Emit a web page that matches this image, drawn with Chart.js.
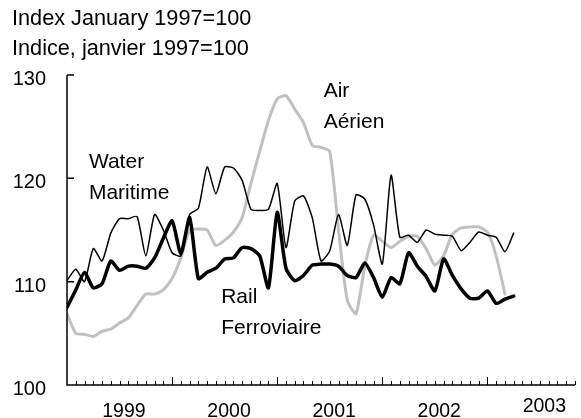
<!DOCTYPE html>
<html>
<head>
<meta charset="utf-8">
<script src="https://cdn.jsdelivr.net/npm/chart.js@4"></script>
<style>
  html, body { margin: 0; padding: 0; background: #fff; }
  #wrap { width: 581px; height: 418px; }
</style>
</head>
<body>
<div id="wrap"><canvas id="chart" width="581" height="418"></canvas></div>
<script>
// Monthly values from January 1999 (index January 1997 = 100)
var waterValues = [
  110.1, 111.2, 110.0, 113.2, 112.0, 114.7, 116.1, 116.1, 116.3, 112.5, 116.5, 115.0,
  112.8, 112.5, 116.5, 117.1, 121.1, 118.5, 121.1, 121.0, 119.8, 117.0, 116.9, 117.0,
  119.5, 113.3, 117.8, 118.3, 116.2, 112.0, 113.0, 116.5, 113.5, 118.4, 118.0, 115.5,
  111.7, 120.3, 114.3, 114.5, 113.8, 115.0, 114.6, 114.5, 114.4, 113.0, 113.8, 114.8,
  114.5, 114.3, 112.9, 114.7
];
var railValues = [
  107.5, 109.2, 110.9, 109.4, 109.8, 112.0, 111.1, 111.5, 111.5, 111.3, 112.3, 114.2,
  115.9, 112.7, 116.2, 110.3, 110.9, 111.3, 112.2, 112.3, 113.3, 113.2, 112.5, 109.4,
  116.7, 111.3, 110.1, 110.6, 111.6, 111.7, 111.7, 111.5, 110.6, 110.4, 111.8, 110.4,
  108.5, 110.4, 109.8, 112.8, 111.5, 110.5, 109.1, 112.2, 110.6, 109.3, 108.4, 108.4,
  109.1, 107.9, 108.3, 108.6
];
var airValues = [
  106.9, 105.0, 104.9, 104.7, 105.2, 105.4, 106.0, 106.5, 107.7, 108.8, 108.8, 109.2,
  110.3, 112.3, 115.0, 115.1, 115.0, 113.5, 114.0, 114.8, 116.2, 119.5, 122.6, 125.6,
  127.7, 128.0, 126.7, 125.4, 123.2, 123.0, 122.6, 115.0, 108.2, 106.9, 111.5, 114.5,
  113.9, 113.3, 113.9, 114.4, 114.4, 113.2, 111.6, 112.5, 114.6, 115.2, 115.3, 115.3,
  114.8, 112.5, 108.8
];

var yearLabels = ['1999', '2000', '2001', '2002', '2003'];
var yTicks = [100, 110, 120, 130];
var titleLines = ['Index January 1997=100', 'Indice, janvier 1997=100'];
var waterLabel = ['Water', 'Maritime'];
var railLabel = ['Rail', 'Ferroviaire'];
var airLabel = ['Air', 'Aérien'];

var lastMonth = 58; // axis runs a little past the data
var FAMILY = '"Liberation Sans", Arial, sans-serif';

function toPoints(values) {
  return values.map(function(v, i) { return { x: i, y: v }; });
}

// axes, ticks and text drawn on the canvas from the scales
var axesPlugin = {
  id: 'statcanAxes',
  afterDatasetsDraw: function(chart) {
    var ctx = chart.ctx;
    var xs = chart.scales.x;
    var ys = chart.scales.y;
    var x0 = xs.getPixelForValue(0);
    var x1 = xs.getPixelForValue(lastMonth);
    var yBottom = ys.getPixelForValue(yTicks[0]);
    var yTop = ys.getPixelForValue(yTicks[yTicks.length - 1]);

    ctx.save();
    ctx.strokeStyle = '#000';
    ctx.lineWidth = 1.5;
    ctx.beginPath();
    ctx.moveTo(x0, yTop);
    ctx.lineTo(x0, yBottom);
    ctx.lineTo(x1, yBottom);
    yTicks.forEach(function(v) {
      var y = ys.getPixelForValue(v);
      ctx.moveTo(x0, y);
      ctx.lineTo(x0 + 7, y);
    });
    ctx.stroke();

    ctx.lineWidth = 1;
    ctx.beginPath();
    for (var m = 1; m <= lastMonth; m++) {
      var x = Math.round(xs.getPixelForValue(m)) + 0.5;
      var len = (m % 12 === 0) ? 8 : 4;
      ctx.moveTo(x, yBottom);
      ctx.lineTo(x, yBottom - len);
    }
    ctx.stroke();

    ctx.fillStyle = '#000';
    ctx.textBaseline = 'alphabetic';

    // y tick labels
    ctx.font = '20px ' + FAMILY;
    ctx.textAlign = 'right';
    yTicks.forEach(function(v) {
      ctx.fillText(String(v), x0 - 21, ys.getPixelForValue(v) + 10);
    });

    // year labels, centred in each year
    ctx.font = '19.5px ' + FAMILY;
    ctx.textAlign = 'center';
    yearLabels.forEach(function(lab, i) {
      var x = xs.getPixelForValue(i * 12 + 6.5);
      var y = (i === yearLabels.length - 1) ? yBottom + 27 : yBottom + 32;
      ctx.fillText(lab, x, y);
    });

    // titles
    ctx.font = '21.7px ' + FAMILY;
    ctx.textAlign = 'left';
    ctx.fillText(titleLines[0], 12, 25);
    ctx.fillText(titleLines[1], 12, 55);

    // series labels
    ctx.font = '21px ' + FAMILY;
    function putLabel(lines, m, v) {
      var x = xs.getPixelForValue(m);
      var y = ys.getPixelForValue(v);
      ctx.fillText(lines[0], x, y);
      ctx.fillText(lines[1], x, y + 31);
    }
    putLabel(waterLabel, 2.5, 121.0);
    putLabel(railLabel, 17.6, 107.9);
    putLabel(airLabel, 29.3, 127.9);
    ctx.restore();
  }
};

var ctx = document.getElementById('chart').getContext('2d');
var chart = new Chart(ctx, {
  type: 'line',
  data: {
    datasets: [{
      label: 'Rail',
      data: toPoints(railValues),
      borderColor: '#000000',
      borderWidth: 3.5,
      order: 0
    }, {
      label: 'Water',
      data: toPoints(waterValues),
      borderColor: '#000000',
      borderWidth: 1.5,
      order: 1
    }, {
      label: 'Air',
      data: toPoints(airValues),
      borderColor: '#c0c0c0',
      borderWidth: 3,
      order: 2
    }]
  },
  options: {
    responsive: false,
    animation: false,
    devicePixelRatio: 1,
    layout: {
      padding: { left: 67, right: 6, top: 75, bottom: 33 }
    },
    elements: {
      point: { radius: 0 },
      line: { tension: 0.2, borderJoinStyle: 'round', borderCapStyle: 'round', fill: false }
    },
    plugins: {
      legend: { display: false },
      tooltip: { enabled: false }
    },
    scales: {
      x: { type: 'linear', min: 0, max: lastMonth, display: false },
      y: { min: 100, max: 130, display: false }
    }
  },
  plugins: [axesPlugin]
});
</script>
</body>
</html>
